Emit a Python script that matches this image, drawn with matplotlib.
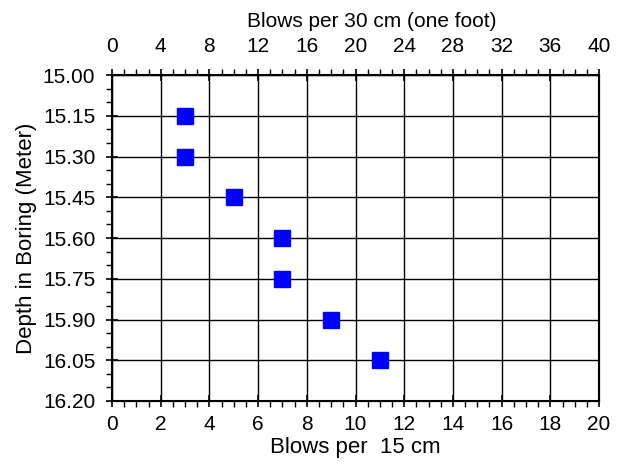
import matplotlib
matplotlib.use("Agg")
import matplotlib.pyplot as plt
from matplotlib.ticker import MultipleLocator, FormatStrFormatter

plt.rcParams['font.family'] = ['Liberation Sans', 'DejaVu Sans']

## Data
blows_15cm = [3, 3, 5, 7, 7, 9, 11]
depth_m = [15.15, 15.30, 15.45, 15.60, 15.75, 15.90, 16.05]
depth_ticks = [15.00, 15.15, 15.30, 15.45, 15.60, 15.75, 15.90, 16.05, 16.20]

fig = plt.figure(figsize=(6.24, 4.66), dpi=100)
ax = fig.add_axes([0.1795, 0.1395, 0.7805, 0.6995])

ax.plot(blows_15cm, depth_m, linestyle="none", marker="s", markersize=11,
        color="#0000ff", zorder=5)

ax.set_xlim(0, 20)
ax.set_ylim(16.20, 15.00)
ax.xaxis.set_major_locator(MultipleLocator(2))
ax.xaxis.set_minor_locator(MultipleLocator(0.5))
ax.set_yticks(depth_ticks)
ax.yaxis.set_major_formatter(FormatStrFormatter("%.2f"))
ax.yaxis.set_minor_locator(MultipleLocator(0.05))
ax.grid(True, which="major", color="black", linewidth=1)

ax.tick_params(which="major", direction="inout", length=8, width=1.2, labelsize=15)
ax.tick_params(axis="x", which="major", pad=6)
ax.tick_params(axis="y", which="major", pad=8)
ax.tick_params(which="minor", direction="out", length=4, width=1)
for s in ax.spines.values():
    s.set_linewidth(1.5)

ax.set_xlabel("Blows per  15 cm", fontsize=16, labelpad=2)
ax.set_ylabel("Depth in Boring (Meter)", fontsize=16, labelpad=4)

# top axis: blows per 30 cm
top = ax.twiny()
top.set_xlim(0, 40)
top.xaxis.set_major_locator(MultipleLocator(4))
top.xaxis.set_minor_locator(MultipleLocator(1))
top.tick_params(which="major", direction="inout", length=8, width=1.2,
                labelsize=15, pad=10)
top.tick_params(which="minor", direction="out", length=4, width=1)
top.set_xlabel("Blows per 30 cm (one foot)", fontsize=15, labelpad=7)
top.xaxis.label.set_x(0.534)  # sits a bit right of centre in the original

fig.savefig("out.png", dpi=100)
